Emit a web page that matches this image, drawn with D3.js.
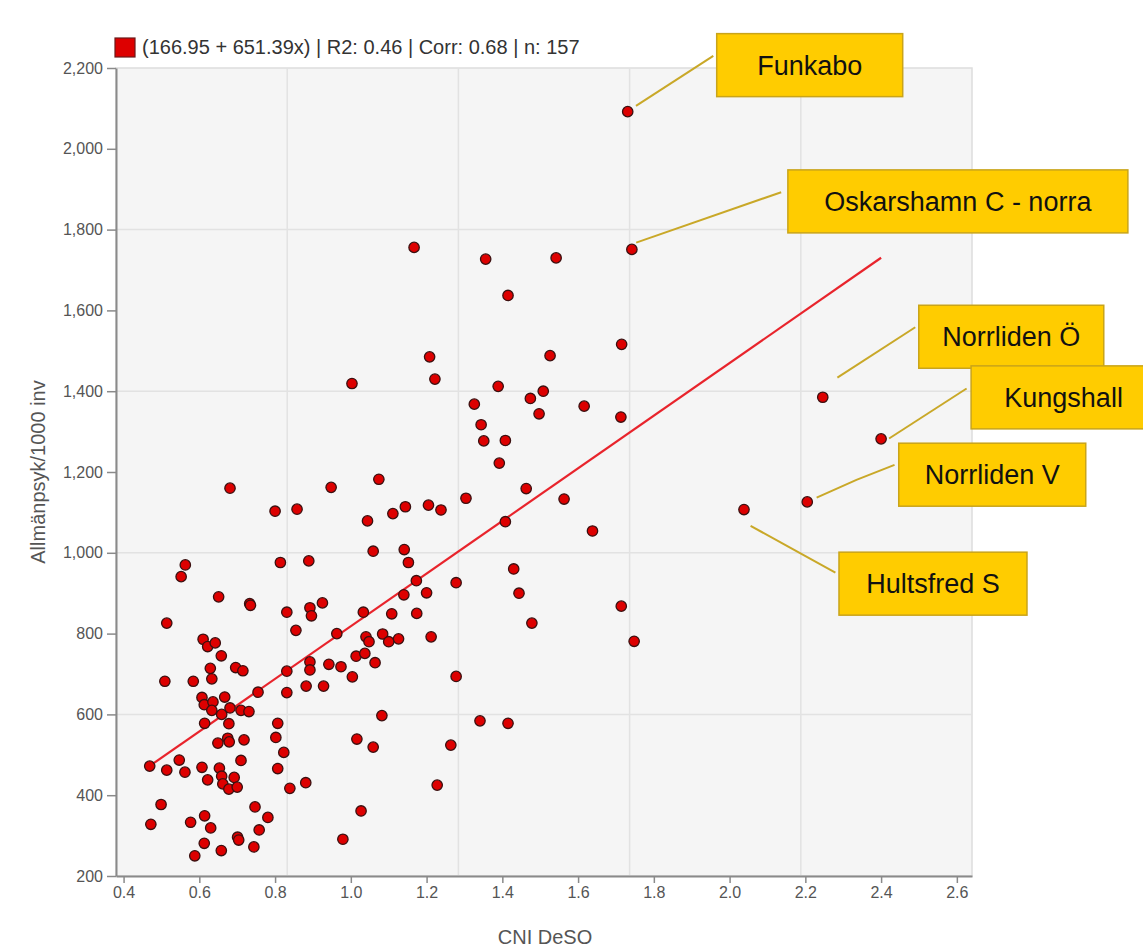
<!DOCTYPE html>
<html><head><meta charset="utf-8">
<script src="https://cdn.jsdelivr.net/npm/d3@7/dist/d3.min.js"></script>
<style>
body{margin:0;background:#fff;}
svg{display:block;font-family:"Liberation Sans",Arial,sans-serif;}
</style>
</head><body>
<svg id="chart" width="1143" height="948"></svg>
<script>
// ---- data ----
const cniDeso = [
1.167,1.356,1.542,1.742,1.415,1.715,1.208,1.526,1.003,1.222,
1.389,1.508,1.474,1.326,1.616,1.344,1.713,1.351,1.408,1.497,
1.392,1.731,2.246,2.400,2.205,2.038,0.948,1.074,0.858,1.044,
1.111,1.144,1.205,1.238,1.304,1.463,1.563,1.408,1.638,0.889,
1.059,1.141,1.152,1.430,1.173,1.278,1.200,1.140,1.444,0.925,
0.892,0.896,1.033,1.108,1.174,0.963,1.040,1.048,1.084,1.100,
1.126,1.212,1.478,1.714,1.748,1.014,1.037,1.064,0.892,0.892,
0.942,0.974,1.004,0.882,0.928,1.278,1.082,1.341,1.415,1.016,
1.059,1.264,0.563,0.552,0.814,0.651,0.733,0.735,0.831,0.514,
0.855,0.610,0.622,0.642,0.658,0.629,0.696,0.715,0.633,0.509,
0.584,0.755,0.831,0.831,0.607,0.613,0.636,0.667,0.633,0.681,
0.659,0.710,0.731,0.614,0.678,0.807,0.649,0.675,0.679,0.718,
0.802,0.823,0.469,0.514,0.547,0.562,0.607,0.653,0.659,0.692,
0.662,0.678,0.700,0.622,0.710,0.807,0.881,0.839,0.499,0.472,
0.577,0.614,0.630,0.747,0.781,0.758,0.613,0.701,0.704,0.744,
0.658,0.588,0.681,0.800,0.979,1.027,1.228
];
const allmanpsyk = [
1756,1727,1730,1751,1637,1516,1485,1488,1419,1430,
1412,1400,1382,1368,1363,1317,1336,1277,1278,1344,
1222,2092,1385,1282,1126,1107,1162,1182,1108,1079,
1097,1114,1118,1106,1135,1159,1133,1077,1054,980,
1004,1008,976,960,931,926,901,896,900,876,
864,844,853,849,850,800,792,780,799,780,
787,792,826,868,781,744,751,728,730,710,
724,718,693,670,670,694,597,584,578,539,
519,524,970,941,976,891,874,870,853,826,
808,786,768,777,745,714,716,708,688,682,
682,655,707,654,642,624,631,643,610,616,
600,610,607,578,577,578,529,541,532,537,
543,506,472,462,487,457,469,467,447,444,
428,415,420,438,486,466,431,417,377,328,
333,349,319,371,345,314,281,296,289,272,
263,250,1160,1103,291,361,425
];
const labelNames = ["Funkabo","Oskarshamn C - norra","Norrliden Ö","Kungshall","Norrliden V","Hultsfred S"];
const labelIndex = [21, 3, 22, 23, 24, 25];
const xTicks = [0.4,0.6,0.8,1.0,1.2,1.4,1.6,1.8,2.0,2.2,2.4,2.6];
const yTicks = [200,400,600,800,1000,1200,1400,1600,1800,2000,2200];
const xDomain = [0.38, 2.64];
const yDomain = [200, 2200];
const regIntercept = 166.95, regSlope = 651.39, regR2 = 0.46, regCorr = 0.68;
const xTitle = "CNI DeSO", yTitle = "Allmänpsyk/1000 inv";

// ---- layout (pixel offsets of callouts relative to their point) ----
const calloutLayout = [
  {bx:89, by:-78, bw:186, line:[[8.3,-5.7],[85.6,-55.7]]},
  {bx:156, by:-79.5, bw:340, line:[[4.3,-6.8],[149.3,-57.2]]},
  {bx:96, by:-92, bw:185, line:[[14.6,-19.6],[92.5,-70]]},
  {bx:90, by:-73, bw:185, line:[[8,-0.4],[85.5,-50.4]]},
  {bx:91.5, by:-58.7, bw:187, line:[[9.4,-4.3],[49.2,-22],[87.3,-37]]},
  {bx:95, by:42.6, bw:188, line:[[6.6,16.3],[91.4,63]]}
];

const svg = d3.select("#chart");
const x = d3.scaleLinear().domain(xDomain).range([116, 972]);
const y = d3.scaleLinear().domain(yDomain).range([876, 68]);

// plot background
svg.append("rect")
  .attr("x", x(xDomain[0])).attr("y", y(yDomain[1]))
  .attr("width", x(xDomain[1]) - x(xDomain[0]))
  .attr("height", y(yDomain[0]) - y(yDomain[1]))
  .attr("fill", "#f5f5f5").attr("stroke", "#dddddd").attr("stroke-width", 1.5);

// gridlines: 5 equal divisions of each domain
const gx = d3.range(1,5).map(k => xDomain[0] + k*(xDomain[1]-xDomain[0])/5);
const gy = d3.range(1,5).map(k => yDomain[0] + k*(yDomain[1]-yDomain[0])/5);
svg.append("g").selectAll("line").data(gx).join("line")
  .attr("x1", d=>x(d)).attr("x2", d=>x(d))
  .attr("y1", y(yDomain[1])).attr("y2", y(yDomain[0]))
  .attr("stroke", "#e2e2e2").attr("stroke-width", 1.5);
svg.append("g").selectAll("line").data(gy).join("line")
  .attr("y1", d=>y(d)).attr("y2", d=>y(d))
  .attr("x1", x(xDomain[0])).attr("x2", x(xDomain[1]))
  .attr("stroke", "#e2e2e2").attr("stroke-width", 1.5);

// axes
const xAxis = svg.append("g").attr("transform", `translate(0,${y(yDomain[0])})`)
  .call(d3.axisBottom(x).tickValues(xTicks).tickFormat(d3.format(".1f")).tickSize(7).tickPadding(4).tickSizeOuter(0));
const yAxis = svg.append("g").attr("transform", `translate(${x(xDomain[0])},0)`)
  .call(d3.axisLeft(y).tickValues(yTicks).tickFormat(d3.format(",")).tickSize(9).tickPadding(4).tickSizeOuter(0));
[xAxis, yAxis].forEach(a => {
  a.select(".domain").attr("stroke", "#8a8a8a").attr("stroke-width", 2);
  a.selectAll(".tick line").attr("stroke", "#8a8a8a").attr("stroke-width", 1.5);
  a.selectAll(".tick text").attr("fill", "#555").style("font-size", "16px")
    .style("font-family", "'Liberation Sans', Arial, sans-serif");
});

// axis titles
svg.append("text").attr("x", (x(xDomain[0])+x(xDomain[1]))/2 + 1).attr("y", 944)
  .attr("text-anchor", "middle").attr("fill", "#555").style("font-size", "20px").text(xTitle);
svg.append("text").attr("transform", `translate(45,${(y(yDomain[0])+y(yDomain[1]))/2}) rotate(-90)`)
  .attr("text-anchor", "middle").attr("fill", "#555").style("font-size", "20px").text(yTitle);

// regression line
const xMin = d3.min(cniDeso), xMax = d3.max(cniDeso);
svg.append("line")
  .attr("x1", x(xMin)).attr("y1", y(regIntercept + regSlope*xMin))
  .attr("x2", x(xMax)).attr("y2", y(regIntercept + regSlope*xMax))
  .attr("stroke", "#e8242c").attr("stroke-width", 2.2);

// points
const pts = cniDeso.map((v,i) => ({x:v, y:allmanpsyk[i]}));
svg.append("g").selectAll("circle").data(pts).join("circle")
  .attr("cx", d=>x(d.x)).attr("cy", d=>y(d.y)).attr("r", 5.2)
  .attr("fill", "#dd0000").attr("stroke", "#3b1010").attr("stroke-width", 1.3);

// legend
svg.append("rect").attr("x", 115).attr("y", 38).attr("width", 20).attr("height", 19)
  .attr("fill", "#dd0000").attr("stroke", "#6b1a1a").attr("stroke-width", 1.2);
svg.append("text").attr("x", 142).attr("y", 54).attr("fill", "#333").style("font-size", "20px")
  .text(`(${regIntercept} + ${regSlope}x) | R2: ${regR2} | Corr: ${regCorr} | n: ${cniDeso.length}`);

// callouts
labelNames.forEach((name, k) => {
  const i = labelIndex[k], L = calloutLayout[k];
  const px = x(cniDeso[i]), py = y(allmanpsyk[i]);
  svg.append("path")
    .attr("d", d3.line()(L.line.map(p => [px+p[0], py+p[1]])))
    .attr("fill", "none").attr("stroke", "#c9a828").attr("stroke-width", 2);
  svg.append("rect").attr("x", px+L.bx).attr("y", py+L.by).attr("width", L.bw).attr("height", 63)
    .attr("fill", "#ffcc00").attr("stroke", "#c9a41a").attr("stroke-width", 1.5);
  svg.append("text").attr("x", px+L.bx+L.bw/2).attr("y", py+L.by+41)
    .attr("text-anchor", "middle").attr("fill", "#111").style("font-size", "27px").text(name);
});
</script>
</body></html>
